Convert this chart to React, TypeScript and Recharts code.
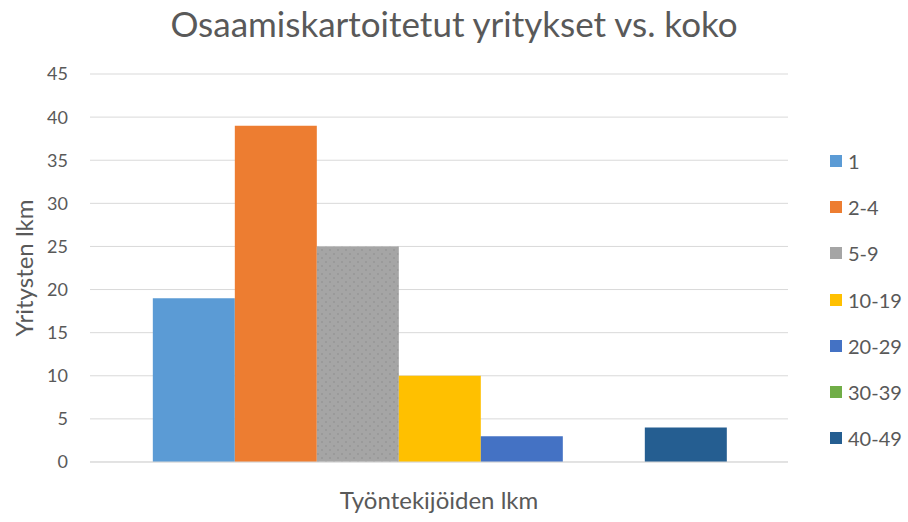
import React from 'react';
import { BarChart, Bar, XAxis, YAxis, CartesianGrid, Legend } from 'recharts';

const seriesNames = ['1', '2-4', '5-9', '10-19', '20-29', '30-39', '40-49'];
const seriesValues = [19, 39, 25, 10, 3, 0, 4];
const seriesColors = ['#5b9bd5', '#ed7d31', 'url(#dotGray)', '#ffc000', '#4472c4', '#70ad47', '#255e91'];
const legendColors = ['#5b9bd5', '#ed7d31', '#a5a5a5', '#ffc000', '#4472c4', '#70ad47', '#255e91'];
const yTicks = [0, 5, 10, 15, 20, 25, 30, 35, 40, 45];

const row: Record<string, any> = { name: '' };
seriesNames.forEach((n, i) => { row['s' + i] = seriesValues[i]; });
const data = [row];

const FONT = 'Lato, "Liberation Sans", sans-serif';
const TXT = '#595959';

const renderLegend = () => (
  <div style={{ width: 78, fontFamily: FONT }}>
    {seriesNames.map((n, i) => (
      <div key={n} style={{ display: 'flex', alignItems: 'center', height: 46.2 }}>
        <span style={{ display: 'inline-block', width: 12, height: 12, background: legendColors[i], marginRight: 6 }} />
        <span style={{ fontSize: 20, color: TXT }}>{n}</span>
      </div>
    ))}
  </div>
);

const YLabel = (props: any) => {
  const vb = props.viewBox || {};
  const cx = 23;
  const cy = (vb.y ?? 0) + (vb.height ?? 0) / 2;
  return (
    <text x={cx} y={cy} transform={`rotate(-90 ${cx} ${cy})`} textAnchor="middle" dominantBaseline="central"
      fill={TXT} fontSize={24} fontFamily={FONT}>Yritysten lkm</text>
  );
};

export default function App() {
  return (
    <div style={{ position: 'absolute', left: 0, top: 0, width: 908, height: 522, background: '#fff' }}>
      <svg width="0" height="0" style={{ position: 'absolute' }}>
        <defs>
          <pattern id="dotGray" patternUnits="userSpaceOnUse" width="8" height="8">
            <rect width="8" height="8" fill="#a5a5a5" />
            <circle cx="2" cy="2" r="0.8" fill="#8c8c8c" />
            <circle cx="6" cy="6" r="0.8" fill="#8c8c8c" />
          </pattern>
        </defs>
      </svg>
      <div style={{ position: 'absolute', left: 0, top: 2, width: 908, textAlign: 'center', fontFamily: FONT, fontSize: 35, color: TXT, lineHeight: '42px' }}>
        Osaamiskartoitetut yritykset vs. koko
      </div>
      <BarChart width={908} height={522} data={data} margin={{ top: 74, right: 42, bottom: 0, left: 0 }} barCategoryGap="9%" barGap={0}>
        <CartesianGrid vertical={false} stroke="#d9d9d9" />
        <XAxis dataKey="name" tick={false} tickLine={false} axisLine={{ stroke: '#d9d9d9' }} height={60}
          label={{ value: 'Työntekijöiden lkm', position: 'insideBottom', offset: 13, fill: TXT, fontSize: 24, fontFamily: FONT }} />
        <YAxis domain={[0, 45]} ticks={yTicks} width={90} tickLine={false} axisLine={false} tickSize={0} tickMargin={22}
          tick={{ fill: TXT, fontSize: 18, fontFamily: FONT }}
          label={<YLabel />} />
        <Legend layout="vertical" align="right" verticalAlign="middle" content={renderLegend}
          wrapperStyle={{ left: 830, top: 138, width: 78 }} />
        {seriesNames.map((n, i) => (
          <Bar key={n} dataKey={'s' + i} name={n} fill={seriesColors[i]} isAnimationActive={false} />
        ))}
      </BarChart>
    </div>
  );
}
